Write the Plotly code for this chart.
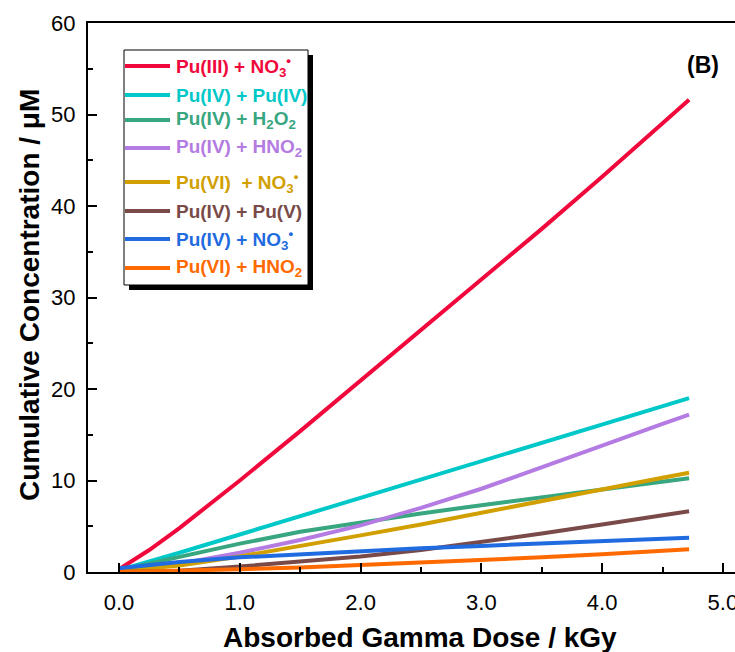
import plotly.graph_objects as go

# ---- data ----
dose = [0.0, 0.25, 0.5, 1.0, 1.5, 2.0, 2.5, 3.0, 3.5, 4.0, 4.5, 4.72]

series_names = [
    "Pu(III) + NO<sub>3</sub><sup>•</sup>",
    "Pu(IV) + Pu(IV)",
    "Pu(IV) + H<sub>2</sub>O<sub>2</sub>",
    "Pu(IV) + HNO<sub>2</sub>",
    "Pu(VI)  + NO<sub>3</sub><sup>•</sup>",
    "Pu(IV) + Pu(V)",
    "Pu(IV) + NO<sub>3</sub><sup>•</sup>",
    "Pu(VI) + HNO<sub>2</sub>",
]
pu3_no3 = [0.3, 2.4, 4.8, 10.0, 15.4, 20.9, 26.4, 31.9, 37.5, 43.2, 49.0, 51.6]
pu4_pu4 = [0.2, 1.1, 2.1, 4.1, 6.1, 8.1, 10.1, 12.2, 14.2, 16.2, 18.2, 19.0]
pu4_h2o2 = [0.2, 0.95, 1.7, 3.1, 4.4, 5.45, 6.4, 7.3, 8.15, 9.05, 9.85, 10.25]
pu4_hno2 = [0.2, 0.5, 0.9, 2.1, 3.5, 5.1, 7.0, 9.1, 11.4, 13.8, 16.2, 17.2]
pu6_no3 = [0.1, 0.35, 0.7, 1.7, 2.8, 4.0, 5.2, 6.5, 7.7, 9.0, 10.3, 10.85]
pu4_pu5 = [0.0, 0.05, 0.15, 0.6, 1.1, 1.7, 2.4, 3.25, 4.2, 5.2, 6.15, 6.65]
pu4_no3 = [0.4, 0.8, 1.1, 1.6, 1.95, 2.3, 2.6, 2.85, 3.1, 3.35, 3.6, 3.75]
pu6_hno2 = [0.0, 0.05, 0.1, 0.3, 0.5, 0.75, 1.0, 1.3, 1.6, 1.95, 2.3, 2.5]

series_values = [pu3_no3, pu4_pu4, pu4_h2o2, pu4_hno2, pu6_no3, pu4_pu5, pu4_no3, pu6_hno2]
colors = ["#F0083C", "#00C8C8", "#38A67F", "#B47CE2", "#D1A000", "#7A4A48", "#1F6BDF", "#FF6A00"]

x_ticks = [0, 1, 2, 3, 4, 5]
x_ticklabels = ["0.0", "1.0", "2.0", "3.0", "4.0", "5.0"]
y_ticks = [0, 10, 20, 30, 40, 50, 60]

# ---- layout geometry (pixels) ----
W, H = 735, 652
L, R, T, B = 88, 0, 23, 80
PW, PH = W - L - R, H - T - B


def px(x):
    return (x - L) / PW


def py(y):
    return (H - B - y) / PH


fig = go.Figure()
for name, vals, col in zip(series_names, series_values, colors):
    fig.add_trace(go.Scatter(x=dose, y=vals, mode="lines", name=name,
                             line=dict(color=col, width=4), showlegend=False))

font_family = "Liberation Sans, Arial, sans-serif"

fig.update_layout(
    width=W, height=H,
    margin=dict(l=L, r=R, t=T, b=B, autoexpand=False),
    plot_bgcolor="white", paper_bgcolor="white",
    font=dict(family=font_family, color="black"),
    xaxis=dict(range=[-0.257, 5.1], tickvals=x_ticks, ticktext=x_ticklabels,
               showgrid=False, zeroline=False, showline=True, linecolor="black",
               linewidth=2, mirror=True, ticks="inside", ticklen=9, tickwidth=2,
               tickcolor="black", tickfont=dict(size=22, family=font_family),
               ticklabelstandoff=10, ticklabeloverflow="allow", automargin=False,
               minor=dict(ticks="inside", ticklen=5, tickwidth=2, tickcolor="black",
                          dtick=0.5, tick0=0, showgrid=False)),
    yaxis=dict(range=[0, 60], tickvals=y_ticks, showgrid=False, zeroline=False,
               showline=True, linecolor="black", linewidth=2, mirror=False,
               ticks="inside", ticklen=9, tickwidth=2, tickcolor="black",
               tickfont=dict(size=22, family=font_family), ticklabelstandoff=6,
               ticklabeloverflow="allow", automargin=False,
               minor=dict(ticks="inside", ticklen=5, tickwidth=2, tickcolor="black",
                          dtick=5, tick0=0, showgrid=False)),
)

# axis titles
fig.add_annotation(xref="paper", yref="paper", x=px(420), y=py(637),
                   text="<b>Absorbed Gamma Dose / kGy</b>", showarrow=False,
                   font=dict(size=28, family=font_family, color="black"),
                   xanchor="center", yanchor="middle")
fig.add_annotation(xref="paper", yref="paper", x=px(29), y=py(295),
                   text="<b>Cumulative Concentration / μM</b>", showarrow=False,
                   textangle=-90,
                   font=dict(size=28, family=font_family, color="black"),
                   xanchor="center", yanchor="middle")

# panel label
fig.add_annotation(xref="paper", yref="paper", x=px(703), y=py(65),
                   text="<b>(B)</b>", showarrow=False,
                   font=dict(size=23, family=font_family, color="black"),
                   xanchor="center", yanchor="middle")

# legend box with drop shadow
fig.add_shape(type="rect", xref="paper", yref="paper",
              x0=px(129), x1=px(313), y0=py(290), y1=py(55),
              fillcolor="black", line=dict(width=0), layer="above")
fig.add_shape(type="rect", xref="paper", yref="paper",
              x0=px(124), x1=px(308), y0=py(285), y1=py(50),
              fillcolor="white", line=dict(color="black", width=1), layer="above")

legend_rows = [66, 95, 120, 148, 182, 211, 239, 268]
for name, col, yy in zip(series_names, colors, legend_rows):
    fig.add_shape(type="line", xref="paper", yref="paper",
                  x0=px(125), x1=px(170), y0=py(yy), y1=py(yy),
                  line=dict(color=col, width=4), layer="above")
    fig.add_annotation(xref="paper", yref="paper", x=px(174), y=py(yy),
                       text="<b>" + name + "</b>", showarrow=False,
                       font=dict(size=19, family=font_family, color=col),
                       xanchor="left", yanchor="middle")

fig.write_html("out.html")
